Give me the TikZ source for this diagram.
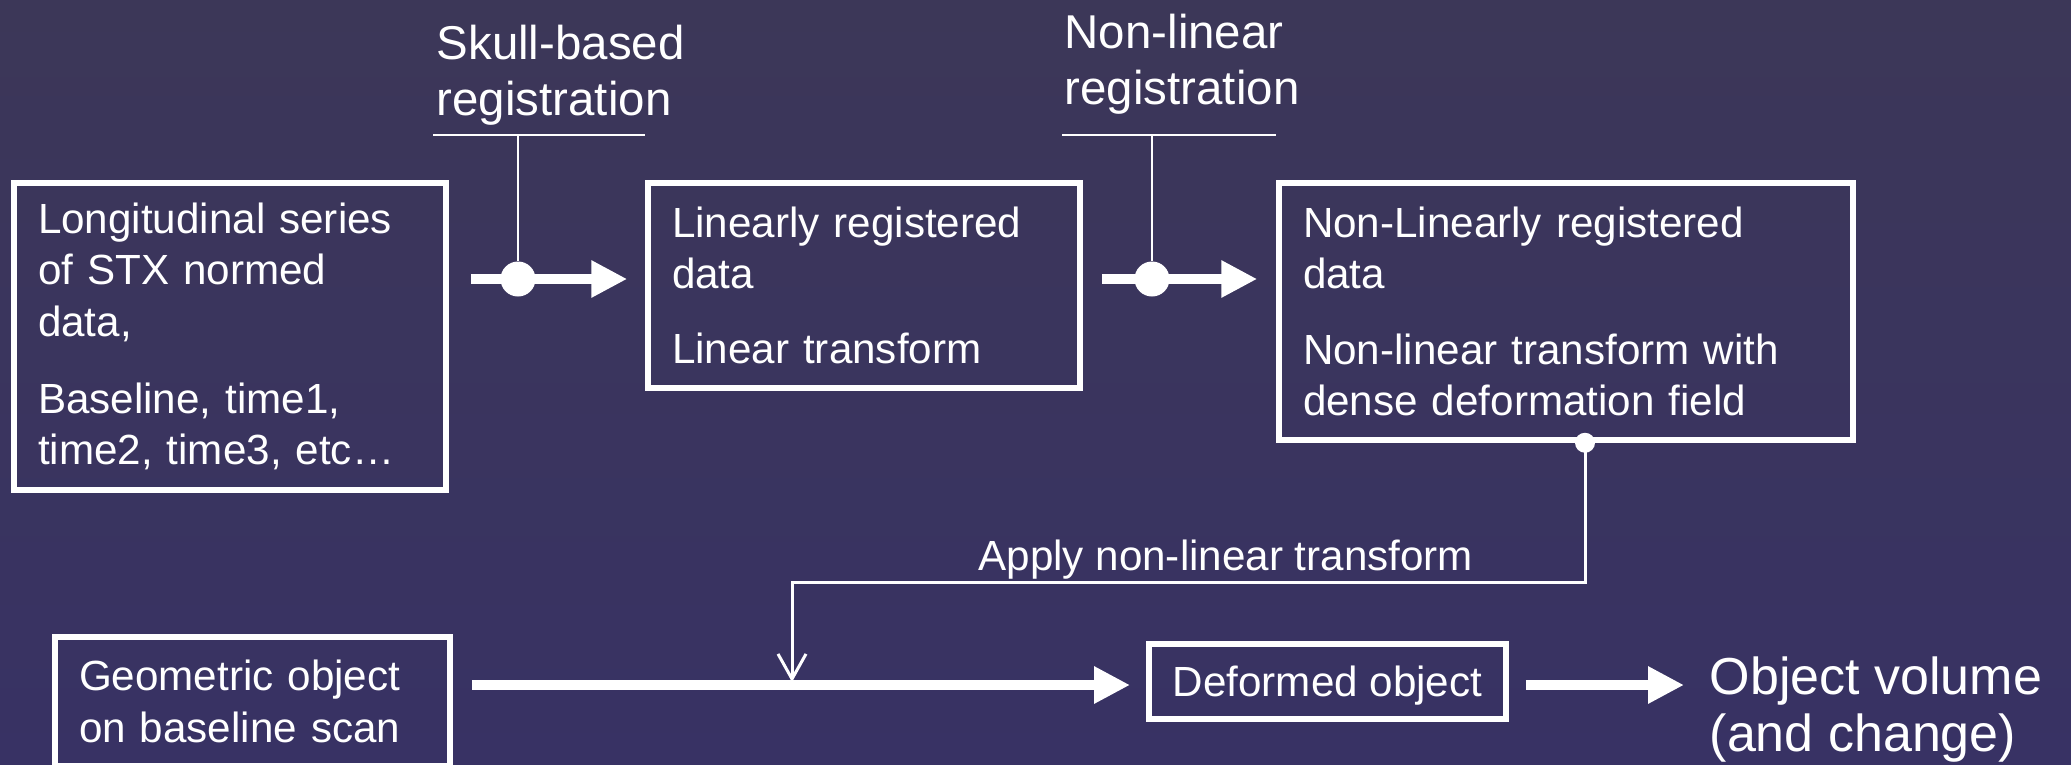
\documentclass[tikz,border=0pt]{standalone}
\usepackage{fontspec}
\setmainfont{Liberation Sans}
\usepackage{tikz}
\usetikzlibrary{arrows.meta, calc}
\definecolor{bgtop}{RGB}{60,55,88}
\definecolor{bgbot}{RGB}{56,50,100}
\tikzset{
    stage/.style={draw=white, line width=0.55mm, text=white, inner xsep=2.4mm, inner ysep=0pt, font=\fontsize{12}{14.6}\selectfont},
    steplabel/.style={text=white, align=left, inner sep=0pt, font=\fontsize{13.5}{15.9}\selectfont},
    bigarrow/.style={draw=white, line width=0.95mm, -{Triangle[length=3.6mm, width=3.5mm]}},
    tap/.style={draw=white, line width=0.2mm},
    joint/.style={circle, fill=white, inner sep=0pt, minimum size=3.5mm}
}

\begin{document}
\begin{tikzpicture}[x=0.1mm, y=-0.1mm]
            \useasboundingbox (0,0) rectangle (2071,764);
            \shade[top color=bgtop, bottom color=bgbot] (0,0) rectangle (2071,764);

            % 1. Registration chain
            \node[stage, text width=38.4mm, minimum height=30.7mm, align=left] (series) at (230,336.5)
                {Longitudinal series\\ of STX normed\\ data,\\[2.6mm] Baseline, time1,\\ time2, time3, etc\ldots};
            \node[stage, text width=38.4mm, minimum height=20.5mm, align=left] (linreg) at (864,285.5)
                {Linearly registered\\ data\\[2.4mm] Linear transform};
            \node[stage, text width=52.6mm, minimum height=25.7mm, align=left] (nonlinreg) at (1566,311.5)
                {Non-Linearly registered\\ data\\[2.4mm] Non-linear transform with\\ dense deformation field};

            \node[joint] (skulljoint) at (518,279) {};
            \node[joint] (nljoint) at (1152,279) {};
            \draw[bigarrow] ($(series.east |- skulljoint)+(22,0)$) -- ($(linreg.west |- skulljoint)+(-18,0)$);
            \draw[bigarrow] ($(linreg.east |- nljoint)+(19,0)$) -- ($(nonlinreg.west |- nljoint)+(-19,0)$);

            % 2. Step labels
            \node[steplabel, anchor=base west] (skull) at (436,115) {Skull-based\\registration};
            \node[steplabel, anchor=base west] (nonlin) at (1064,104) {Non-linear\\registration};
            \coordinate (skullbar) at (433,135);
            \coordinate (nlbar) at (1062,135);
            \draw[tap] (skullbar) -- (skullbar -| linreg.west);
            \draw[tap] (skulljoint |- skullbar) -- (skulljoint);
            \draw[tap] (nlbar) -- (nlbar -| nonlinreg.west);
            \draw[tap] (nljoint |- nlbar) -- (nljoint);

            % 3. Object chain
            \node[stage, text width=34.7mm, minimum height=12.9mm, align=left] (geom) at (252.5,701.5)
                {Geometric object\\ on baseline scan};
            \node[stage, text depth=0pt, minimum width=35.7mm, minimum height=7.5mm, align=center] (deformed) at (1327.5,681.5)
                {Deformed object};
            \node[text=white, align=left, inner sep=0pt, anchor=base west, font=\fontsize{14.8}{16}\selectfont] (volume) at (1709,751)
                {Object volume\\(and change)};
            \coordinate (merge) at (792,685);
            \draw[bigarrow] ($(geom.east |- merge)+(19,0)$) -- ($(deformed.west |- merge)+(-16,0)$);
            \draw[bigarrow] ($(deformed.east |- merge)+(17,0)$) -- ($(volume.west |- merge)+(-25,0)$);

            % 4. Apply the transform
            \coordinate (tapout) at ($(nonlinreg.south)+(19,0)$);
            \coordinate (applybar) at (792,582);
            \fill[white] (tapout) circle (1mm);
            \draw[tap, line width=0.3mm, -{Straight Barb[length=2.5mm, width=2.8mm]}] (tapout) -- (tapout |- applybar)
                -- node[anchor=base, pos=0.453, yshift=1.2mm, text=white, font=\fontsize{12}{14.6}\selectfont] (apply) {Apply non-linear transform}
                (applybar) -- ($(merge)+(0,-3)$);
        \end{tikzpicture}
\end{document}
